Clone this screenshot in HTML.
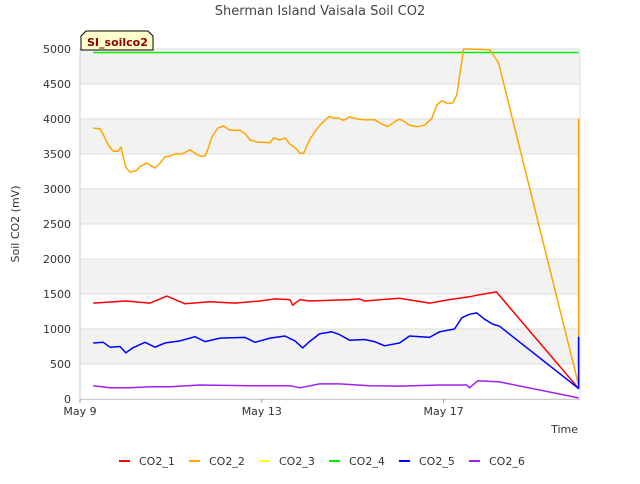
<!DOCTYPE html>
<html><head><meta charset="utf-8"><style>
body{margin:0;background:#fff;font-family:"DejaVu Sans","Liberation Sans",sans-serif;}
svg text{font-family:"DejaVu Sans","Liberation Sans",sans-serif;}
</style></head><body>
<svg id="chart" width="640" height="480" viewBox="0 0 640 480">
<text x="320" y="15" text-anchor="middle" font-size="13" fill="#444">Sherman Island Vaisala Soil CO2</text>
<g id="grid"></g>
<g id="axes"></g>
<g id="series"></g>
<text x="19" y="224" transform="rotate(-90 19 224)" text-anchor="middle" font-size="11" fill="#333">Soil CO2 (mV)</text>
<text x="578" y="433" text-anchor="end" font-size="11" fill="#333">Time</text>
<g>
<path d="M81,50 L81,36 L86,31 L148,31 L153,36 L153,50 Z" fill="#ffffcc" stroke="#000" stroke-width="1"/>
<text x="87" y="46" font-size="11" font-weight="bold" fill="#8b0000">SI_soilco2</text>
</g>
<g id="legend"></g>
</svg>
<script>
const yTicks=[0,500,1000,1500,2000,2500,3000,3500,4000,4500,5000];
const xTickDays=[0,4,8];
const xTickLabels=["May 9","May 13","May 17"];
const seriesNames=["CO2_1","CO2_2","CO2_3","CO2_4","CO2_5","CO2_6"];
const seriesColors=["#ff0000","#ffa500","#ffff00","#00ee00","#0000ff","#a020f0"];
const co2_1Days=[0.29,0.99,1.54,1.91,2.02,2.31,2.86,3.41,3.96,4.29,4.62,4.68,4.84,5.05,5.93,6.15,6.26,7.03,7.69,8.13,8.57,8.79,9.16,10.97];
const co2_1Vals=[1370,1400,1370,1470,1440,1360,1390,1370,1400,1430,1420,1340,1420,1400,1420,1430,1400,1440,1370,1420,1460,1490,1530,150];
const co2_2Days=[0.29,0.44,0.51,0.62,0.73,0.84,0.90,0.95,1.01,1.10,1.23,1.34,1.47,1.65,1.76,1.87,1.98,2.09,2.24,2.42,2.53,2.64,2.75,2.81,2.90,3.03,3.16,3.30,3.52,3.65,3.74,3.91,4.18,4.26,4.40,4.51,4.62,4.75,4.84,4.92,5.05,5.19,5.32,5.49,5.60,5.71,5.80,5.93,6.11,6.26,6.48,6.64,6.77,6.92,7.03,7.14,7.25,7.43,7.58,7.74,7.85,7.96,8.09,8.20,8.29,8.37,8.44,8.57,9.01,9.08,9.21,10.97,10.97];
const co2_2Vals=[3870,3860,3780,3630,3540,3540,3600,3460,3310,3240,3260,3330,3370,3300,3370,3460,3470,3500,3500,3560,3510,3470,3470,3560,3740,3870,3900,3840,3840,3780,3700,3670,3660,3730,3700,3730,3640,3580,3510,3510,3700,3840,3940,4040,4010,4010,3980,4030,4000,3990,3990,3930,3890,3960,4000,3960,3910,3890,3910,4010,4200,4260,4220,4230,4340,4700,5000,5000,4990,4930,4800,200,4010];
const co2_3Days=[];
const co2_3Vals=[];
const co2_4Days=[0.29,10.97];
const co2_4Vals=[4950,4950];
const co2_5Days=[0.29,0.51,0.66,0.88,1.01,1.16,1.43,1.65,1.87,2.20,2.53,2.75,3.08,3.63,3.85,4.18,4.51,4.73,4.90,5.05,5.27,5.54,5.71,5.93,6.26,6.48,6.70,7.03,7.25,7.69,7.91,8.24,8.40,8.57,8.73,8.90,9.08,9.23,10.97,10.97];
const co2_5Vals=[800,810,740,750,660,730,810,740,800,830,890,820,870,880,810,870,900,830,730,820,930,960,920,840,850,820,760,800,900,880,960,1000,1160,1210,1230,1140,1070,1040,150,890];
const co2_6Days=[0.29,0.66,1.10,1.54,1.98,2.64,3.74,4.62,4.84,5.27,5.71,6.37,7.03,7.91,8.51,8.57,8.75,9.23,10.97];
const co2_6Vals=[190,160,160,175,175,200,190,190,160,215,215,190,185,200,200,160,260,245,15];

const L=80,R=580,T=49,B=399,DAYS=11;
const xS=d=>L+d*(R-L)/DAYS;
const yS=v=>B-v*(B-T)/5000;
const NS="http://www.w3.org/2000/svg";
function mk(tag,attrs,parent){const e=document.createElementNS(NS,tag);for(const k in attrs)e.setAttribute(k,attrs[k]);parent.appendChild(e);return e;}
const grid=document.getElementById('grid'),axes=document.getElementById('axes'),ser=document.getElementById('series'),leg=document.getElementById('legend');
for(let i=0;i<yTicks.length-1;i++){
  if(i%2===1){const r=mk('rect',{x:L,y:yS(yTicks[i+1]),width:R-L,height:yS(yTicks[i])-yS(yTicks[i+1]),fill:'#f2f2f2'},grid);
  
  }
}
yTicks.forEach(v=>{
  const l=mk('line',{x1:L,x2:R,y1:yS(v),y2:yS(v),stroke:'#dddddd','stroke-width':1},grid);
  
  
  const t=mk('text',{x:L-9,y:yS(v)+4,'text-anchor':'end','font-size':11,fill:'#333'},axes);
  t.textContent=v;
  
  
});
mk('line',{x1:R,x2:R,y1:T,y2:B,stroke:'#dddddd'},grid);
const ax=mk('line',{x1:L,x2:L,y1:T,y2:B+1,stroke:'#cccccc'},axes);


const bx=mk('line',{x1:L,x2:R,y1:B+0.5,y2:B+0.5,stroke:'#cccccc'},axes);


xTickDays.forEach((d,i)=>{
  mk('line',{x1:xS(d),x2:xS(d),y1:B,y2:B+4,stroke:'#999'},axes);
  const t=mk('text',{x:xS(d),y:B+16,'text-anchor':'middle','font-size':11,fill:'#333'},axes);
  t.textContent=xTickLabels[i];
  
  
});
const allDays=[co2_1Days,co2_2Days,co2_3Days,co2_4Days,co2_5Days,co2_6Days];
const allVals=[co2_1Vals,co2_2Vals,co2_3Vals,co2_4Vals,co2_5Vals,co2_6Vals];
[3,1,0,4,5].forEach(i=>{
  const ds=allDays[i],vs=allVals[i];
  if(!ds.length)return;
  const p=mk('polyline',{points:ds.map((d,j)=>xS(d).toFixed(1)+','+yS(vs[j]).toFixed(1)).join(' '),fill:'none',stroke:seriesColors[i],'stroke-width':1.5,'stroke-linejoin':'round'},ser);
  
  
});
seriesNames.forEach((n,i)=>{
  const g=mk('g',{},leg);
  
  
  const x=119+i*70;
  mk('line',{x1:x,x2:x+11,y1:461,y2:461,stroke:seriesColors[i],'stroke-width':2},g);
  const t=mk('text',{x:x+20,y:465,'font-size':11,fill:'#333'},g);
  t.textContent=n;
});
</script>
</body></html>
